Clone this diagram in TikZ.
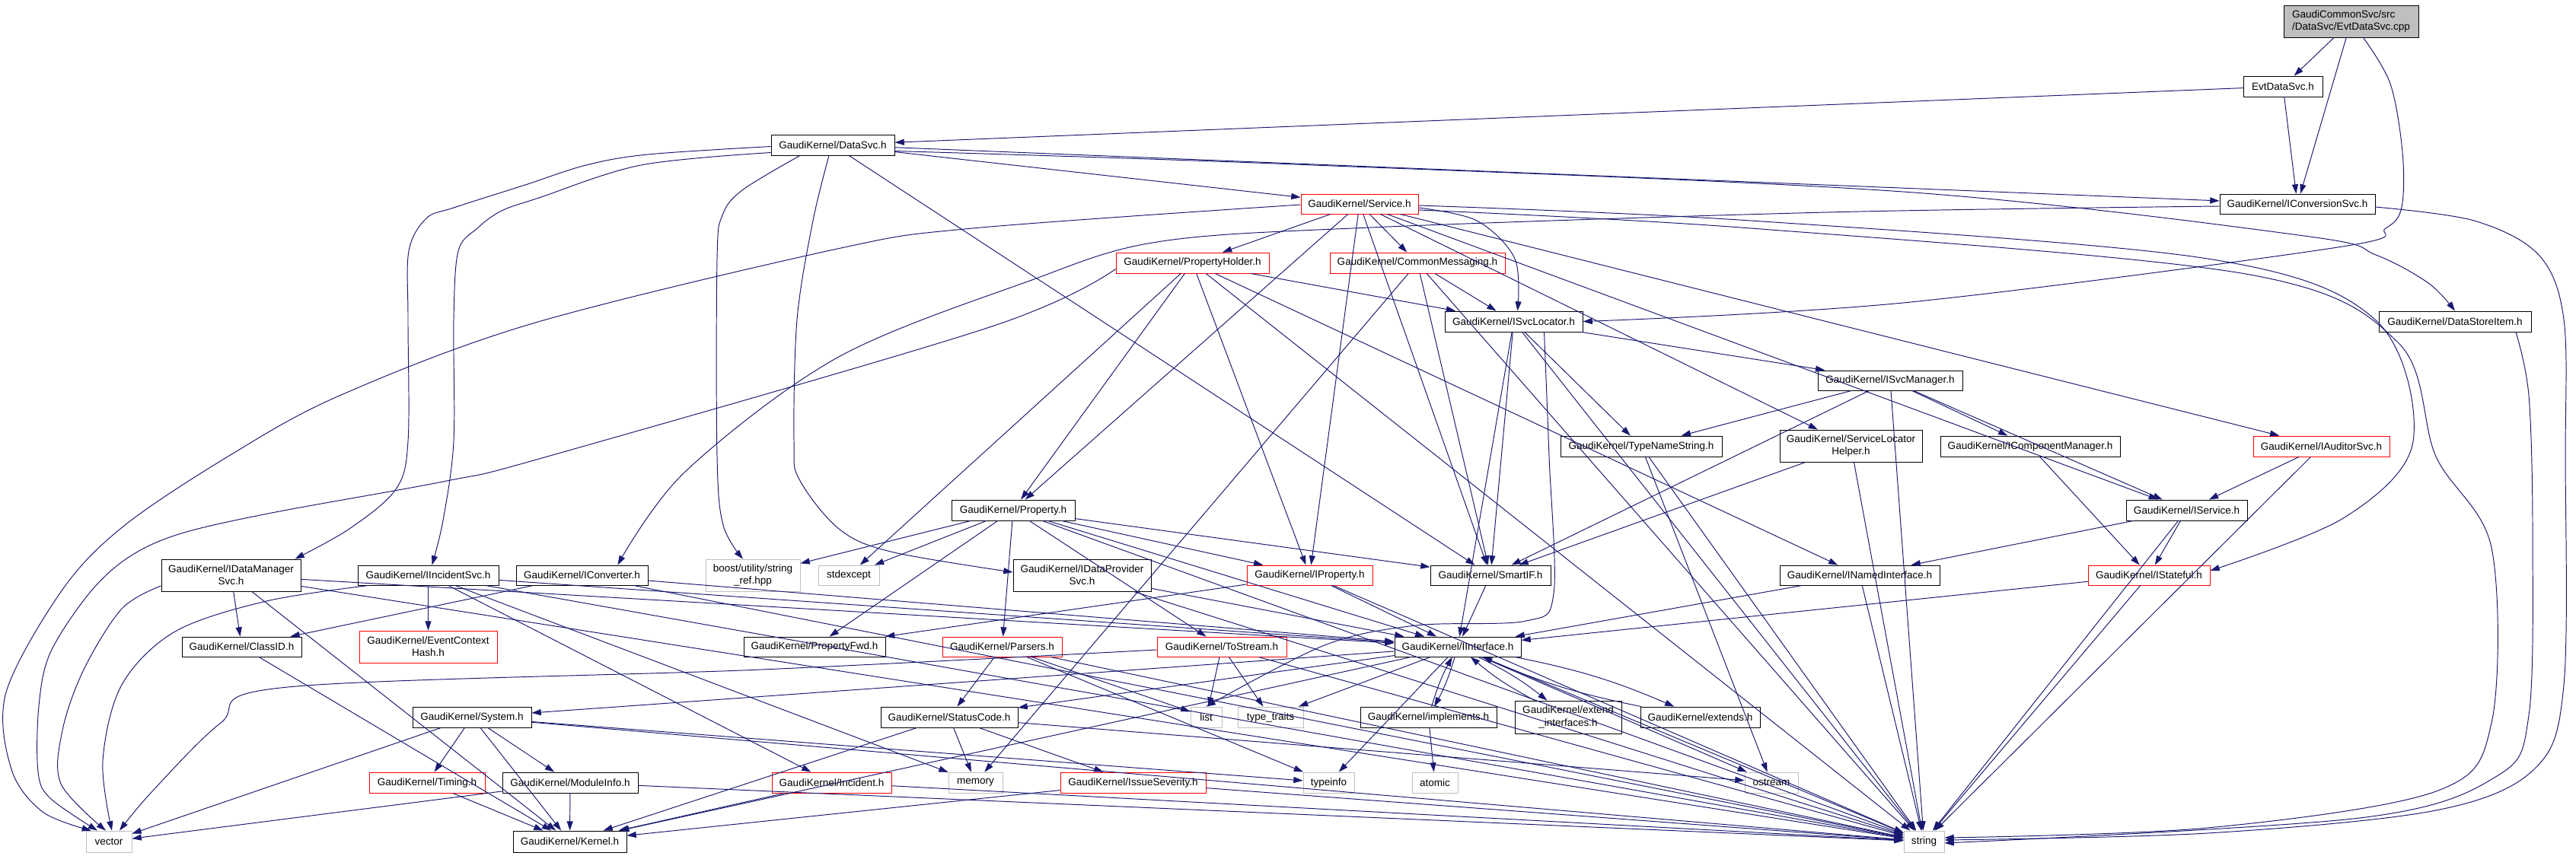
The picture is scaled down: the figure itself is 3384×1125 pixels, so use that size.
\documentclass[tikz,border=0pt]{standalone}
\usepackage{fontspec}
\setmainfont{Liberation Sans}
\usetikzlibrary{arrows.meta,calc}
\definecolor{edgec}{RGB}{25,25,112}
\definecolor{sysc}{RGB}{191,191,191}
\newcommand{\bx}[7]{\node[#2, minimum width={(#5-#3)*0.02cm}, minimum height={(#6-#4)*0.02cm}] (#1) at ({(#3+#5)/2},{(#4+#6)/2}) {#7};}
\begin{document}
\begin{tikzpicture}[x=0.02cm,y=-0.02cm,
  base/.style={draw,line width=0.5pt,inner sep=0pt,font=\fontsize{7.7}{9.2}\selectfont,align=center},
  box/.style={base,draw=black},
  rbox/.style={base,draw=red},
  sbox/.style={base,draw=sysc},
  gbox/.style={base,draw=black,fill=sysc},
  e/.style={draw=edgec,line width=0.55pt,-{Triangle[length=7pt,width=4.6pt]},edgec},
  r/.style={e,smooth,tension=0.55}]
\useasboundingbox (0,0) rectangle (3384,1125);
\bx{cpp}{gbox,align=left}{3000}{7}{3177}{49}{GaudiCommonSvc/src\\/DataSvc/EvtDataSvc.cpp}
\bx{evth}{box}{2947}{100}{3051}{127}{EvtDataSvc.h}
\bx{datasvc}{box}{1013}{177}{1175}{204}{GaudiKernel/DataSvc.h}
\bx{iconv}{box}{2916}{255}{3120}{281}{GaudiKernel/IConversionSvc.h}
\bx{service}{rbox}{1709}{255}{1863}{281}{GaudiKernel/Service.h}
\bx{propholder}{rbox}{1466}{332}{1667}{359}{GaudiKernel/PropertyHolder.h}
\bx{commsg}{rbox}{1747}{332}{1977}{359}{GaudiKernel/CommonMessaging.h}
\bx{isvcloc}{box}{1898}{409}{2079}{436}{GaudiKernel/ISvcLocator.h}
\bx{datastore}{box}{3125}{409}{3325}{436}{GaudiKernel/DataStoreItem.h}
\bx{isvcmgr}{box}{2388}{487}{2578}{513}{GaudiKernel/ISvcManager.h}
\bx{typename}{box}{2050}{573}{2262}{600}{GaudiKernel/TypeNameString.h}
\bx{slhelper}{box}{2338}{565}{2525}{607}{GaudiKernel/ServiceLocator\\Helper.h}
\bx{icompmgr}{box}{2549}{573}{2785}{600}{GaudiKernel/IComponentManager.h}
\bx{iauditor}{rbox}{2960}{573}{3139}{600}{GaudiKernel/IAuditorSvc.h}
\bx{property}{box}{1250}{657}{1412}{684}{GaudiKernel/Property.h}
\bx{iservice}{box}{2793}{657}{2952}{684}{GaudiKernel/IService.h}
\bx{datamgr}{box}{212}{735}{395}{777}{GaudiKernel/IDataManager\\Svc.h}
\bx{iincident}{box}{470}{743}{655}{769}{GaudiKernel/IIncidentSvc.h}
\bx{iconverter}{box}{678}{743}{851}{769}{GaudiKernel/IConverter.h}
\bx{boost}{sbox}{927}{735}{1051}{777}{boost/utility/string\\\_ref.hpp}
\bx{stdexcept}{sbox}{1075}{743}{1155}{769}{stdexcept}
\bx{idataprov}{box}{1331}{735}{1512}{777}{GaudiKernel/IDataProvider\\Svc.h}
\bx{iproperty}{rbox}{1638}{743}{1803}{769}{GaudiKernel/IProperty.h}
\bx{smartif}{box}{1879}{743}{2037}{769}{GaudiKernel/SmartIF.h}
\bx{inamed}{box}{2338}{743}{2548}{769}{GaudiKernel/INamedInterface.h}
\bx{istateful}{rbox}{2743}{743}{2903}{769}{GaudiKernel/IStateful.h}
\bx{classid}{box}{239}{837}{396}{863}{GaudiKernel/ClassID.h}
\bx{evctx}{rbox}{472}{829}{653}{871}{GaudiKernel/EventContext\\Hash.h}
\bx{propfwd}{box}{977}{837}{1163}{863}{GaudiKernel/PropertyFwd.h}
\bx{parsers}{rbox}{1238}{837}{1395}{863}{GaudiKernel/Parsers.h}
\bx{tostream}{rbox}{1520}{837}{1690}{863}{GaudiKernel/ToStream.h}
\bx{iinterface}{box}{1832}{837}{1998}{863}{GaudiKernel/IInterface.h}
\bx{system}{box}{542}{929}{698}{956}{GaudiKernel/System.h}
\bx{statuscode}{box}{1157}{929}{1337}{956}{GaudiKernel/StatusCode.h}
\bx{list}{sbox}{1564}{929}{1605}{956}{list}
\bx{typetraits}{sbox}{1626}{929}{1712}{956}{type\_traits}
\bx{implements}{box}{1787}{929}{1966}{956}{GaudiKernel/implements.h}
\bx{extendif}{box}{1990}{921}{2130}{964}{GaudiKernel/extend\\\_interfaces.h}
\bx{extends}{box}{2155}{929}{2312}{956}{GaudiKernel/extends.h}
\bx{timing}{rbox}{485}{1015}{637}{1042}{GaudiKernel/Timing.h}
\bx{moduleinfo}{box}{660}{1015}{838}{1042}{GaudiKernel/ModuleInfo.h}
\bx{incident}{rbox}{1014}{1015}{1171}{1042}{GaudiKernel/Incident.h}
\bx{memory}{sbox}{1246}{1015}{1317}{1042}{memory}
\bx{issuesev}{rbox}{1393}{1015}{1584}{1042}{GaudiKernel/IssueSeverity.h}
\bx{typeinfo}{sbox}{1712}{1015}{1779}{1042}{typeinfo}
\bx{atomic}{sbox}{1855}{1015}{1915}{1042}{atomic}
\bx{ostream}{sbox}{2292}{1015}{2362}{1042}{ostream}
\bx{vector}{sbox}{113}{1092}{173}{1120}{vector}
\bx{kernel}{box}{674}{1092}{823}{1120}{GaudiKernel/Kernel.h}
\bx{string}{sbox}{2501}{1092}{2554}{1120}{string}
% long routed connectors
\draw[r] plot coordinates {($(cpp.south)+(16,0)$) (3140,110) (3156,200) (3155,272) (3134,300) (3071,325) (2500,398) (isvcloc.east)};
\draw[r] plot coordinates {($(datasvc.west)+(0,2)$) (851,203) (770,217) (690,243) (596,273) (560,287) (537,330) (536,420) (536,580) (520,643) (459,695) ($(datamgr.north east)+(-8,0)$)};
\draw[r] plot coordinates {($(datasvc.west)+(0,10)$) (842,217) (708,260) (659,277) (627,300) (602,330) (596,420) (596,580) (582,684) ($(iincident.north)+(5,0)$)};
\draw[r] plot coordinates {($(datasvc.south)+(-43,0)$) (975,250) (949,283) (942,340) (942,600) (950,690) ($(boost.north)+(-13,0)$)};
\draw[r] plot coordinates {($(datasvc.south)+(-5,0)$) (1068,290) (1047,420) (1043,580) (1050,630) (1102,695) (1170,725) ($(idataprov.west)+(0,-4)$)};
\draw[r] plot coordinates {($(datasvc.east)+(0,8)$) (1700,216) (2500,252) (3027,310) (3121,335) (3190,372) (datastore.north)};
\draw[r] plot coordinates {($(iconv.east)+(0,4)$) (3250,290) (3335,335) (3368,420) (3370,600) (3368,900) (3330,1010) (3200,1065) (2900,1095) ($(string.east)+(0,-2)$)};
\draw[r] plot coordinates {($(datastore.south)+(80,0)$) (3322,520) (3327,700) (3322,940) (3280,1020) (3100,1075) ($(string.east)+(0,2)$)};
\draw[r] plot coordinates {($(iconv.west)+(0,3)$) (2400,279) (1800,299) (1520,318) (1350,370) (1100,470) (900,620) ($(iconverter.north east)+(-40,0)$)};
\draw[r] plot coordinates {($(service.west)+(0,1)$) (1278,300) (1100,327) (700,425) (446,520) (301,599) (163,691) (82,775) (8,910) (15,1011) (56,1067) ($(vector.north)+(-23,0)$)};
\draw[r] plot coordinates {($(propholder.west)+(0,8)$) (1300,430) (719,600) (587,632) (357,674) (235,702) (168,733) (117,780) (66,858) (51,928) (50,1014) (66,1049) ($(vector.north)+(-15,0)$)};
\draw[r] plot coordinates {($(datamgr.west)+(0,14)$) (160,800) (110,880) (82,960) (80,1030) ($(vector.north)+(-4,0)$)};
\draw[r] plot coordinates {($(iincident.south west)+(15,0)$) (350,790) (230,830) (160,900) (135,1000) ($(vector.north)+(4,0)$)};
\draw[r] plot coordinates {($(tostream.west)+(0,4)$) (1000,880) (378,903) (290,950) (200,1040) ($(vector.north)+(14,0)$)};
\draw[r] plot coordinates {($(service.east)+(0,5)$) (1940,290) (1990,340) ($(isvcloc.north)+(5,0)$)};
\draw[r] plot coordinates {($(service.east)+(0,8)$) (2300,300) (2950,360) (3150,450) (3200,600) (3273,720) (3273,950) (3200,1040) (2900,1088) ($(string.east)+(0,-5)$)};
\draw[r] plot coordinates {($(service.east)+(0,2)$) (2300,290) (2900,340) (3120,420) (3170,580) (3080,680) ($(istateful.east)+(0,-6)$)};
\draw[r] plot coordinates {($(isvcloc.south)+(40,0)$) (2035,600) (2041,780) (2005,816) (1860,822) (1740,848) (list.north)};
\foreach \a/\b in {cpp/evth, cpp/iconv,
 evth/datasvc, evth/iconv,
 datasvc/iconv, datasvc/service, datasvc/smartif,
 service/propholder, service/commsg, service/smartif, service/property, service/iproperty, service/iservice, service/iauditor, service/slhelper,
 propholder/isvcloc, propholder/property, propholder/iproperty, propholder/stdexcept, propholder/string, propholder/inamed,
 commsg/isvcloc, commsg/smartif, commsg/string, commsg/memory,
 isvcloc/isvcmgr, isvcloc/typename, isvcloc/smartif, isvcloc/iinterface, isvcloc/string,
 isvcmgr/typename, isvcmgr/iservice, isvcmgr/icompmgr, isvcmgr/smartif, isvcmgr/string,
 typename/string, typename/ostream,
 iauditor/iservice, iauditor/string, icompmgr/istateful,
 slhelper/smartif, slhelper/string,
 iservice/inamed, iservice/istateful, iservice/string,
 istateful/iinterface, istateful/string, inamed/iinterface, inamed/string,
 smartif/iinterface, iproperty/iinterface, iproperty/propfwd, iproperty/string,
 property/boost, property/stdexcept, property/propfwd, property/parsers, property/iproperty, property/smartif, property/tostream, property/iinterface, property/string,
 datamgr/classid, datamgr/string, datamgr/iinterface, datamgr/kernel,
 iincident/evctx, iincident/incident, iincident/iinterface, iincident/string, iincident/memory,
 iconverter/classid, iconverter/iinterface, iconverter/string,
 idataprov/iinterface, idataprov/string,
 classid/kernel,
 parsers/statuscode, parsers/list, parsers/string, parsers/typeinfo,
 tostream/list, tostream/typetraits, tostream/string,
 iinterface/statuscode, iinterface/system, iinterface/typetraits, iinterface/typeinfo, iinterface/ostream, iinterface/string, iinterface/kernel,
 implements/atomic,
 system/timing, system/moduleinfo, system/kernel, system/vector, system/string, system/typeinfo,
 moduleinfo/kernel, moduleinfo/vector, moduleinfo/string, timing/kernel,
 statuscode/memory, statuscode/issuesev, statuscode/kernel, statuscode/ostream,
 issuesev/kernel, issuesev/string, incident/kernel, incident/string}
 \draw[e] (\a) -- (\b);
\foreach \a/\b in {iinterface/implements, implements/iinterface, iinterface/extendif, extendif/iinterface, iinterface/extends, extends/iinterface}
 \draw[e] (\a) to[bend left=6] (\b);
\end{tikzpicture}
\end{document}
